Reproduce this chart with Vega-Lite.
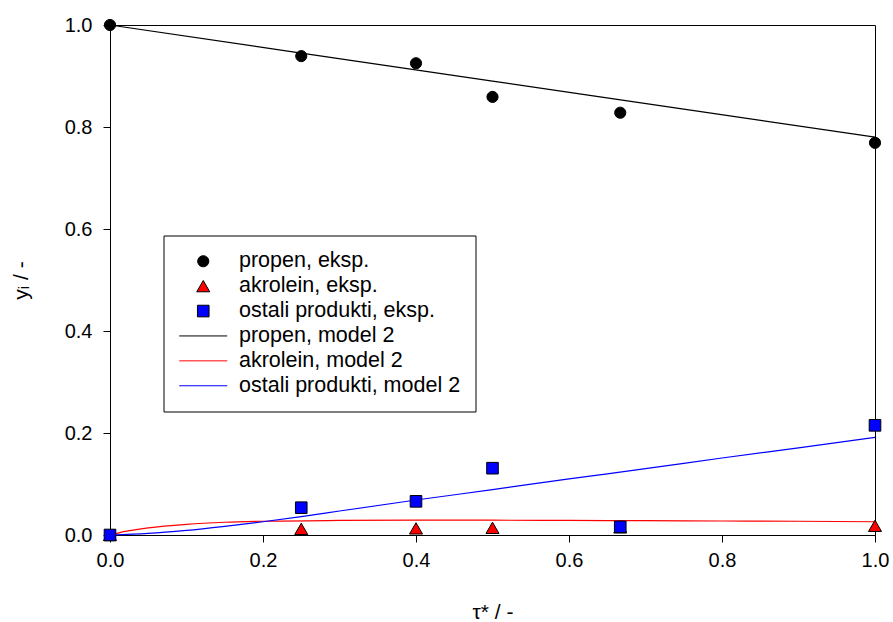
{
  "$schema": "https://vega.github.io/schema/vega-lite/v6.json",
  "autosize": {"type": "none"},
  "padding": {"left": 110, "top": 25, "right": 18, "bottom": 87},
  "width": 765,
  "height": 510,
  "background": "white",
  "config": {
    "font": "Liberation Sans",
    "view": {"stroke": "black", "strokeWidth": 1},
    "axis": {
      "grid": false,
      "domainColor": "black",
      "tickColor": "black",
      "tickSize": 7,
      "labelColor": "black",
      "titleColor": "black",
      "labelFont": "Liberation Sans",
      "titleFont": "Liberation Sans",
      "labelFontSize": 20,
      "titleFontSize": 21,
      "titleFontWeight": "normal"
    },
    "legend": {
      "orient": "none",
      "legendX": 53.5,
      "legendY": 210.5,
      "padding": 15,
      "strokeColor": "black",
      "fillColor": "white",
      "labelFont": "Liberation Sans",
      "labelFontSize": 21.5,
      "labelColor": "black",
      "labelLimit": 400,
      "labelOffset": 25,
      "symbolOffset": 14,
      "rowPadding": 1.9,
      "symbolStrokeWidth": 1,
      "symbolOpacity": 1,
      "cornerRadius": 0
    }
  },
  "datasets": {
    "exp": [
      {"x": 0, "y": 1.0, "s": "propen, eksp."},
      {"x": 0.25, "y": 0.939, "s": "propen, eksp."},
      {"x": 0.4, "y": 0.925, "s": "propen, eksp."},
      {"x": 0.5, "y": 0.859, "s": "propen, eksp."},
      {"x": 0.667, "y": 0.828, "s": "propen, eksp."},
      {"x": 1.0, "y": 0.769, "s": "propen, eksp."},
      {"x": 0, "y": 0.0, "s": "akrolein, eksp."},
      {"x": 0.25, "y": 0.012, "s": "akrolein, eksp."},
      {"x": 0.4, "y": 0.013, "s": "akrolein, eksp."},
      {"x": 0.5, "y": 0.014, "s": "akrolein, eksp."},
      {"x": 0.667, "y": 0.015, "s": "akrolein, eksp."},
      {"x": 1.0, "y": 0.018, "s": "akrolein, eksp."},
      {"x": 0, "y": 0.0, "s": "ostali produkti, eksp."},
      {"x": 0.25, "y": 0.0535, "s": "ostali produkti, eksp."},
      {"x": 0.4, "y": 0.066, "s": "ostali produkti, eksp."},
      {"x": 0.5, "y": 0.131, "s": "ostali produkti, eksp."},
      {"x": 0.667, "y": 0.016, "s": "ostali produkti, eksp."},
      {"x": 1.0, "y": 0.215, "s": "ostali produkti, eksp."}
    ],
    "model": [
      {"x": 0, "y": 1.0, "s": "propen, model 2"},
      {"x": 0.25, "y": 0.945, "s": "propen, model 2"},
      {"x": 0.5, "y": 0.89, "s": "propen, model 2"},
      {"x": 0.75, "y": 0.835, "s": "propen, model 2"},
      {"x": 1.0, "y": 0.78, "s": "propen, model 2"},
      {"x": 0, "y": 0.0, "s": "akrolein, model 2"},
      {"x": 0.02, "y": 0.007, "s": "akrolein, model 2"},
      {"x": 0.05, "y": 0.014, "s": "akrolein, model 2"},
      {"x": 0.1, "y": 0.021, "s": "akrolein, model 2"},
      {"x": 0.15, "y": 0.025, "s": "akrolein, model 2"},
      {"x": 0.2, "y": 0.027, "s": "akrolein, model 2"},
      {"x": 0.3, "y": 0.0285, "s": "akrolein, model 2"},
      {"x": 0.4, "y": 0.029, "s": "akrolein, model 2"},
      {"x": 0.5, "y": 0.029, "s": "akrolein, model 2"},
      {"x": 0.6, "y": 0.0285, "s": "akrolein, model 2"},
      {"x": 0.7, "y": 0.028, "s": "akrolein, model 2"},
      {"x": 0.8, "y": 0.0275, "s": "akrolein, model 2"},
      {"x": 0.9, "y": 0.027, "s": "akrolein, model 2"},
      {"x": 1.0, "y": 0.026, "s": "akrolein, model 2"},
      {"x": 0, "y": 0.0, "s": "ostali produkti, model 2"},
      {"x": 0.05, "y": 0.003, "s": "ostali produkti, model 2"},
      {"x": 0.1, "y": 0.009, "s": "ostali produkti, model 2"},
      {"x": 0.15, "y": 0.017, "s": "ostali produkti, model 2"},
      {"x": 0.2, "y": 0.026, "s": "ostali produkti, model 2"},
      {"x": 0.25, "y": 0.036, "s": "ostali produkti, model 2"},
      {"x": 0.3, "y": 0.047, "s": "ostali produkti, model 2"},
      {"x": 0.4, "y": 0.0686, "s": "ostali produkti, model 2"},
      {"x": 0.5, "y": 0.089, "s": "ostali produkti, model 2"},
      {"x": 0.6, "y": 0.11, "s": "ostali produkti, model 2"},
      {"x": 0.7, "y": 0.13, "s": "ostali produkti, model 2"},
      {"x": 0.8, "y": 0.151, "s": "ostali produkti, model 2"},
      {"x": 0.9, "y": 0.171, "s": "ostali produkti, model 2"},
      {"x": 1.0, "y": 0.1915, "s": "ostali produkti, model 2"}
    ]
  },
  "encoding": {
    "x": {
      "field": "x",
      "type": "quantitative",
      "scale": {"domain": [0, 1], "nice": false, "zero": false},
      "axis": {"values": [0, 0.2, 0.4, 0.6, 0.8, 1.0], "format": ".1f", "title": "τ* / -", "labelPadding": 8, "titlePadding": 31, "labelFlush": false}
    },
    "y": {
      "field": "y",
      "type": "quantitative",
      "scale": {"domain": [0, 1], "nice": false, "zero": false},
      "axis": {"values": [0, 0.2, 0.4, 0.6, 0.8, 1.0], "format": ".1f", "title": "yᵢ / -", "labelPadding": 11, "titlePadding": 33, "labelFlush": false}
    }
  },
  "layer": [
    {
      "data": {"name": "model"},
      "mark": {"type": "line", "strokeWidth": 1.2, "interpolate": "monotone"},
      "encoding": {
        "detail": {"field": "s", "type": "nominal"},
        "stroke": {
          "field": "s",
          "type": "nominal",
          "scale": {
            "domain": ["propen, eksp.", "akrolein, eksp.", "ostali produkti, eksp.", "propen, model 2", "akrolein, model 2", "ostali produkti, model 2"],
            "range": ["black", "black", "black", "black", "#ff0000", "#0000ff"]
          },
          "legend": {"title": null}
        }
      }
    },
    {
      "data": {"name": "exp"},
      "mark": {"type": "point", "filled": true, "opacity": 1, "strokeWidth": 1},
      "encoding": {
        "shape": {
          "field": "s",
          "type": "nominal",
          "scale": {
            "domain": ["propen, eksp.", "akrolein, eksp.", "ostali produkti, eksp.", "propen, model 2", "akrolein, model 2", "ostali produkti, model 2"],
            "range": ["circle", "triangle-up", "square", "M-4.8,0H4.8", "M-4.8,0H4.8", "M-4.8,0H4.8"]
          },
          "legend": {"title": null}
        },
        "fill": {
          "field": "s",
          "type": "nominal",
          "scale": {
            "domain": ["propen, eksp.", "akrolein, eksp.", "ostali produkti, eksp.", "propen, model 2", "akrolein, model 2", "ostali produkti, model 2"],
            "range": ["black", "#ff0000", "#0000ff", "black", "#ff0000", "#0000ff"]
          },
          "legend": {"title": null}
        },
        "stroke": {
          "field": "s",
          "type": "nominal",
          "scale": {
            "domain": ["propen, eksp.", "akrolein, eksp.", "ostali produkti, eksp.", "propen, model 2", "akrolein, model 2", "ostali produkti, model 2"],
            "range": ["black", "black", "black", "black", "#ff0000", "#0000ff"]
          },
          "legend": {"title": null}
        },
        "size": {
          "field": "s",
          "type": "nominal",
          "scale": {
            "type": "ordinal",
            "domain": ["propen, eksp.", "akrolein, eksp.", "ostali produkti, eksp.", "propen, model 2", "akrolein, model 2", "ostali produkti, model 2"],
            "range": [125, 170, 135, 100, 100, 100]
          },
          "legend": {"title": null}
        }
      }
    }
  ]
}
